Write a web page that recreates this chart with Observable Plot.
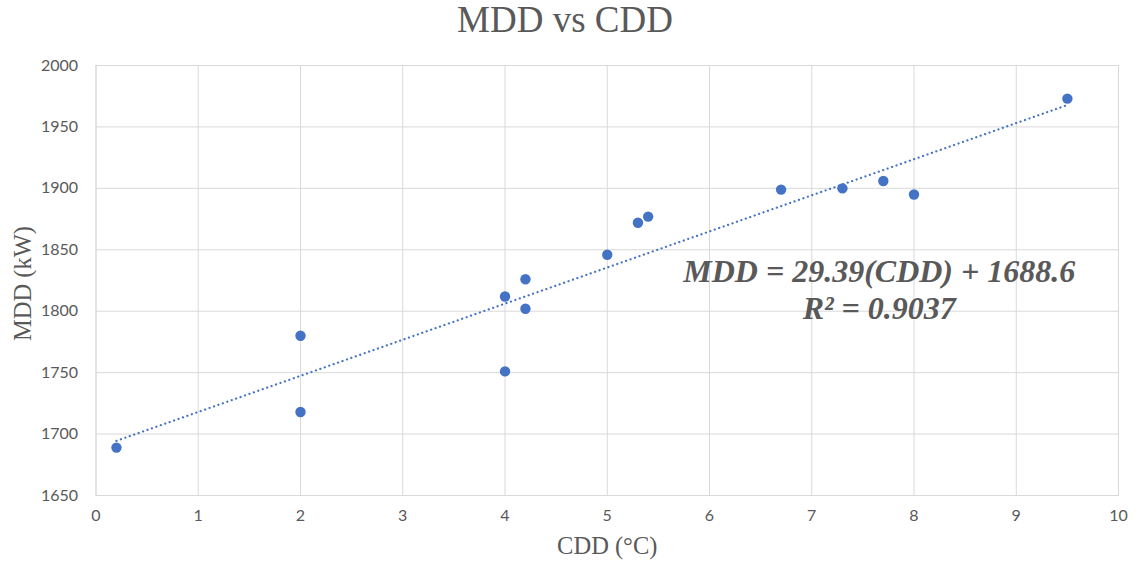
<!DOCTYPE html>
<html>
<head>
<meta charset="utf-8">
<script src="https://cdn.jsdelivr.net/npm/d3@7"></script>
<script src="https://cdn.jsdelivr.net/npm/@observablehq/plot@0.6"></script>
<style>
  html, body { margin: 0; padding: 0; background: #fff; }
  #title {
    height: 48px; line-height: 40px; text-align: center;
    font-family: "Liberation Serif", "DejaVu Serif", serif;
    font-size: 37px; color: #595959;
    padding-right: 8px;
  }
  #chart svg { display: block; }
</style>
</head>
<body>
<div id="title">MDD vs CDD</div>
<div id="chart"></div>
<script>
// Cooling degree days (°C) and maximum daily demand (kW)
const cdd = [0.2, 2, 2, 4, 4, 4.2, 4.2, 5, 5.3, 5.4, 6.7, 7.3, 7.7, 8, 9.5];
const mdd = [1689, 1718, 1780, 1751, 1812, 1802, 1826, 1846, 1872, 1877, 1899, 1900, 1906, 1895, 1973];

// Linear fit as reported
const slope = 29.39;
const intercept = 1688.6;
const rSquared = 0.9037;

const xTicks = [0, 1, 2, 3, 4, 5, 6, 7, 8, 9, 10];
const yTicks = [1650, 1700, 1750, 1800, 1850, 1900, 1950, 2000];

// Equation label anchor (data units)
const eqX = 7.66;
const eqY = 1824;

const points = cdd.map((x, i) => ({x, y: mdd[i]}));
const [xMin, xMax] = d3.extent(cdd);
const trend = [xMin, xMax].map(x => ({x, y: slope * x + intercept}));

const gridColor = "#d9d9d9";
const textColor = "#595959";
const blue = "#4472c4";
const serif = "'Liberation Serif', 'DejaVu Serif', serif";

const chart = Plot.plot({
  width: 1138,
  height: 521,
  marginTop: 17,
  marginBottom: 74,
  marginLeft: 95.5,
  marginRight: 20,
  style: {fontFamily: "Lato, sans-serif", fontSize: "16px", color: textColor, background: "#fff"},
  x: {domain: [0, 10]},
  y: {domain: [1650, 2000]},
  marks: [
    Plot.gridX(xTicks, {stroke: gridColor, strokeOpacity: 1}),
    Plot.gridY(yTicks, {stroke: gridColor, strokeOpacity: 1}),
    Plot.frame({stroke: gridColor}),
    Plot.axisX(xTicks, {tickSize: 0, tickPadding: 14, label: null, fill: textColor}),
    Plot.axisY(yTicks, {tickSize: 0, tickPadding: 18, label: null, fill: textColor, tickFormat: "d"}),
    Plot.line(trend, {x: "x", y: "y", stroke: blue, strokeWidth: 2.2, strokeDasharray: "0.1 4.6", strokeLinecap: "round"}),
    Plot.dot(points, {x: "x", y: "y", r: 5.2, fill: blue, stroke: "none"}),
    Plot.text([`MDD = ${slope}(CDD) + ${intercept}`], {
      x: () => eqX, y: () => eqY, text: d => d,
      fontFamily: serif, fontSize: 32, fontWeight: "bold", fontStyle: "italic",
      fill: textColor, lineAnchor: "bottom"
    }),
    Plot.text([`R² = ${rSquared}`], {
      x: () => eqX, y: () => eqY, text: d => d, dy: 37,
      fontFamily: serif, fontSize: 32, fontWeight: "bold", fontStyle: "italic",
      fill: textColor, lineAnchor: "bottom"
    }),
    Plot.text(["MDD (kW)"], {
      frameAnchor: "left", text: d => d, rotate: -90, dx: -73, dy: 3,
      textAnchor: "middle",
      fontFamily: serif, fontSize: 24.5, fill: textColor
    }),
    Plot.text(["CDD (°C)"], {
      frameAnchor: "bottom", text: d => d, dy: 58,
      fontFamily: serif, fontSize: 24.5, fill: textColor
    })
  ]
});

document.getElementById("chart").appendChild(chart);
</script>
</body>
</html>
